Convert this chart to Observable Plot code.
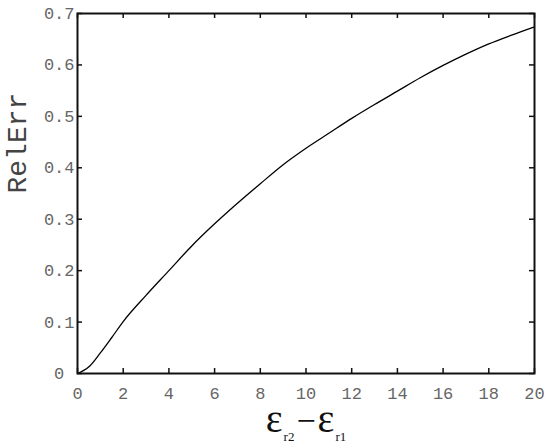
<!DOCTYPE html>
<html><head><meta charset="utf-8">
<script src="https://cdn.jsdelivr.net/npm/d3@7"></script>
<script src="https://cdn.jsdelivr.net/npm/@observablehq/plot@0.6"></script>
<style>body{margin:0;background:#fff}</style>
</head><body><div id="chart"></div>
<script>
const xValues = [0, 0.5, 1, 1.5, 2, 3, 4, 5, 6, 7, 8, 9, 10, 11, 12, 13, 14, 15, 16, 17, 18, 19, 20];
const relErr  = [0, 0.013, 0.04, 0.07, 0.101, 0.152, 0.200, 0.248, 0.291, 0.331, 0.369, 0.406, 0.438, 0.467, 0.496, 0.523, 0.549, 0.575, 0.599, 0.621, 0.641, 0.658, 0.674];
const xTicks = [0, 2, 4, 6, 8, 10, 12, 14, 16, 18, 20];
const yTicks = [0, 0.1, 0.2, 0.3, 0.4, 0.5, 0.6, 0.7];
const yTickLabels = ["0\u00a0", "0.1", "0.2", "0.3", "0.4", "0.5", "0.6", "0.7"];
const yLabel = "RelErr";

const W = 550, H = 445, mL = 77, mR = 16, mT = 13, mB = 72, TL = 5;
const xDom = [0, 20], yDom = [0, 0.7];
const xTickLen = (xDom[1] - xDom[0]) * TL / (W - mL - mR);
const yTickLen = (yDom[1] - yDom[0]) * TL / (H - mT - mB);

const data = xValues.map((x, i) => ({x, y: relErr[i]}));
const tickStyle = {stroke: "#111", strokeWidth: 1.5};
const textFont = {fontFamily: "Liberation Mono", fontSize: 17, fill: "#666"};

const svg = Plot.plot({
  width: W, height: H,
  marginLeft: mL, marginRight: mR, marginTop: mT, marginBottom: mB,
  x: {domain: xDom, axis: null},
  y: {domain: yDom, axis: null},
  marks: [
    Plot.line(data, {x: "x", y: "y", stroke: "#000", strokeWidth: 1.3, curve: "monotone-x"}),
    Plot.ruleX(xTicks, {x: d => d, y1: yDom[0], y2: yDom[0] + yTickLen, ...tickStyle}),
    Plot.ruleX(xTicks, {x: d => d, y1: yDom[1] - yTickLen, y2: yDom[1], ...tickStyle}),
    Plot.ruleY(yTicks, {y: d => d, x1: xDom[0], x2: xDom[0] + xTickLen, ...tickStyle}),
    Plot.ruleY(yTicks, {y: d => d, x1: xDom[1] - xTickLen, x2: xDom[1], ...tickStyle}),
    Plot.axisX({ticks: xTicks, tickSize: 0, tickPadding: 13, label: null, ...textFont}),
    Plot.axisY({ticks: yTicks, tickFormat: d => yTickLabels[yTicks.indexOf(d)], tickSize: 0, tickPadding: 3, label: null, ...textFont}),
    Plot.text([yLabel], {text: d => d, frameAnchor: "left", dx: -60, rotate: -90, fontFamily: "Liberation Mono", fontSize: 28, fill: "#444"}),
    Plot.frame({stroke: "#111", strokeWidth: 2})
  ]
});

const lab = d3.select(svg).append("text")
  .attr("x", 306).attr("y", 432)
  .attr("text-anchor", "middle")
  .attr("font-family", "Liberation Serif")
  .attr("fill", "#111");
lab.append("tspan").attr("font-size", 40).text("ε");
lab.append("tspan").attr("font-size", 13).attr("dy", 9).attr("dx", 1).text("r2");
lab.append("tspan").attr("font-size", 34).attr("dy", -9).attr("dx", 2).text("−");
lab.append("tspan").attr("font-size", 40).attr("dx", 2).text("ε");
lab.append("tspan").attr("font-size", 13).attr("dy", 9).attr("dx", 1).text("r1");

document.getElementById("chart").appendChild(svg);
</script>
</body></html>
